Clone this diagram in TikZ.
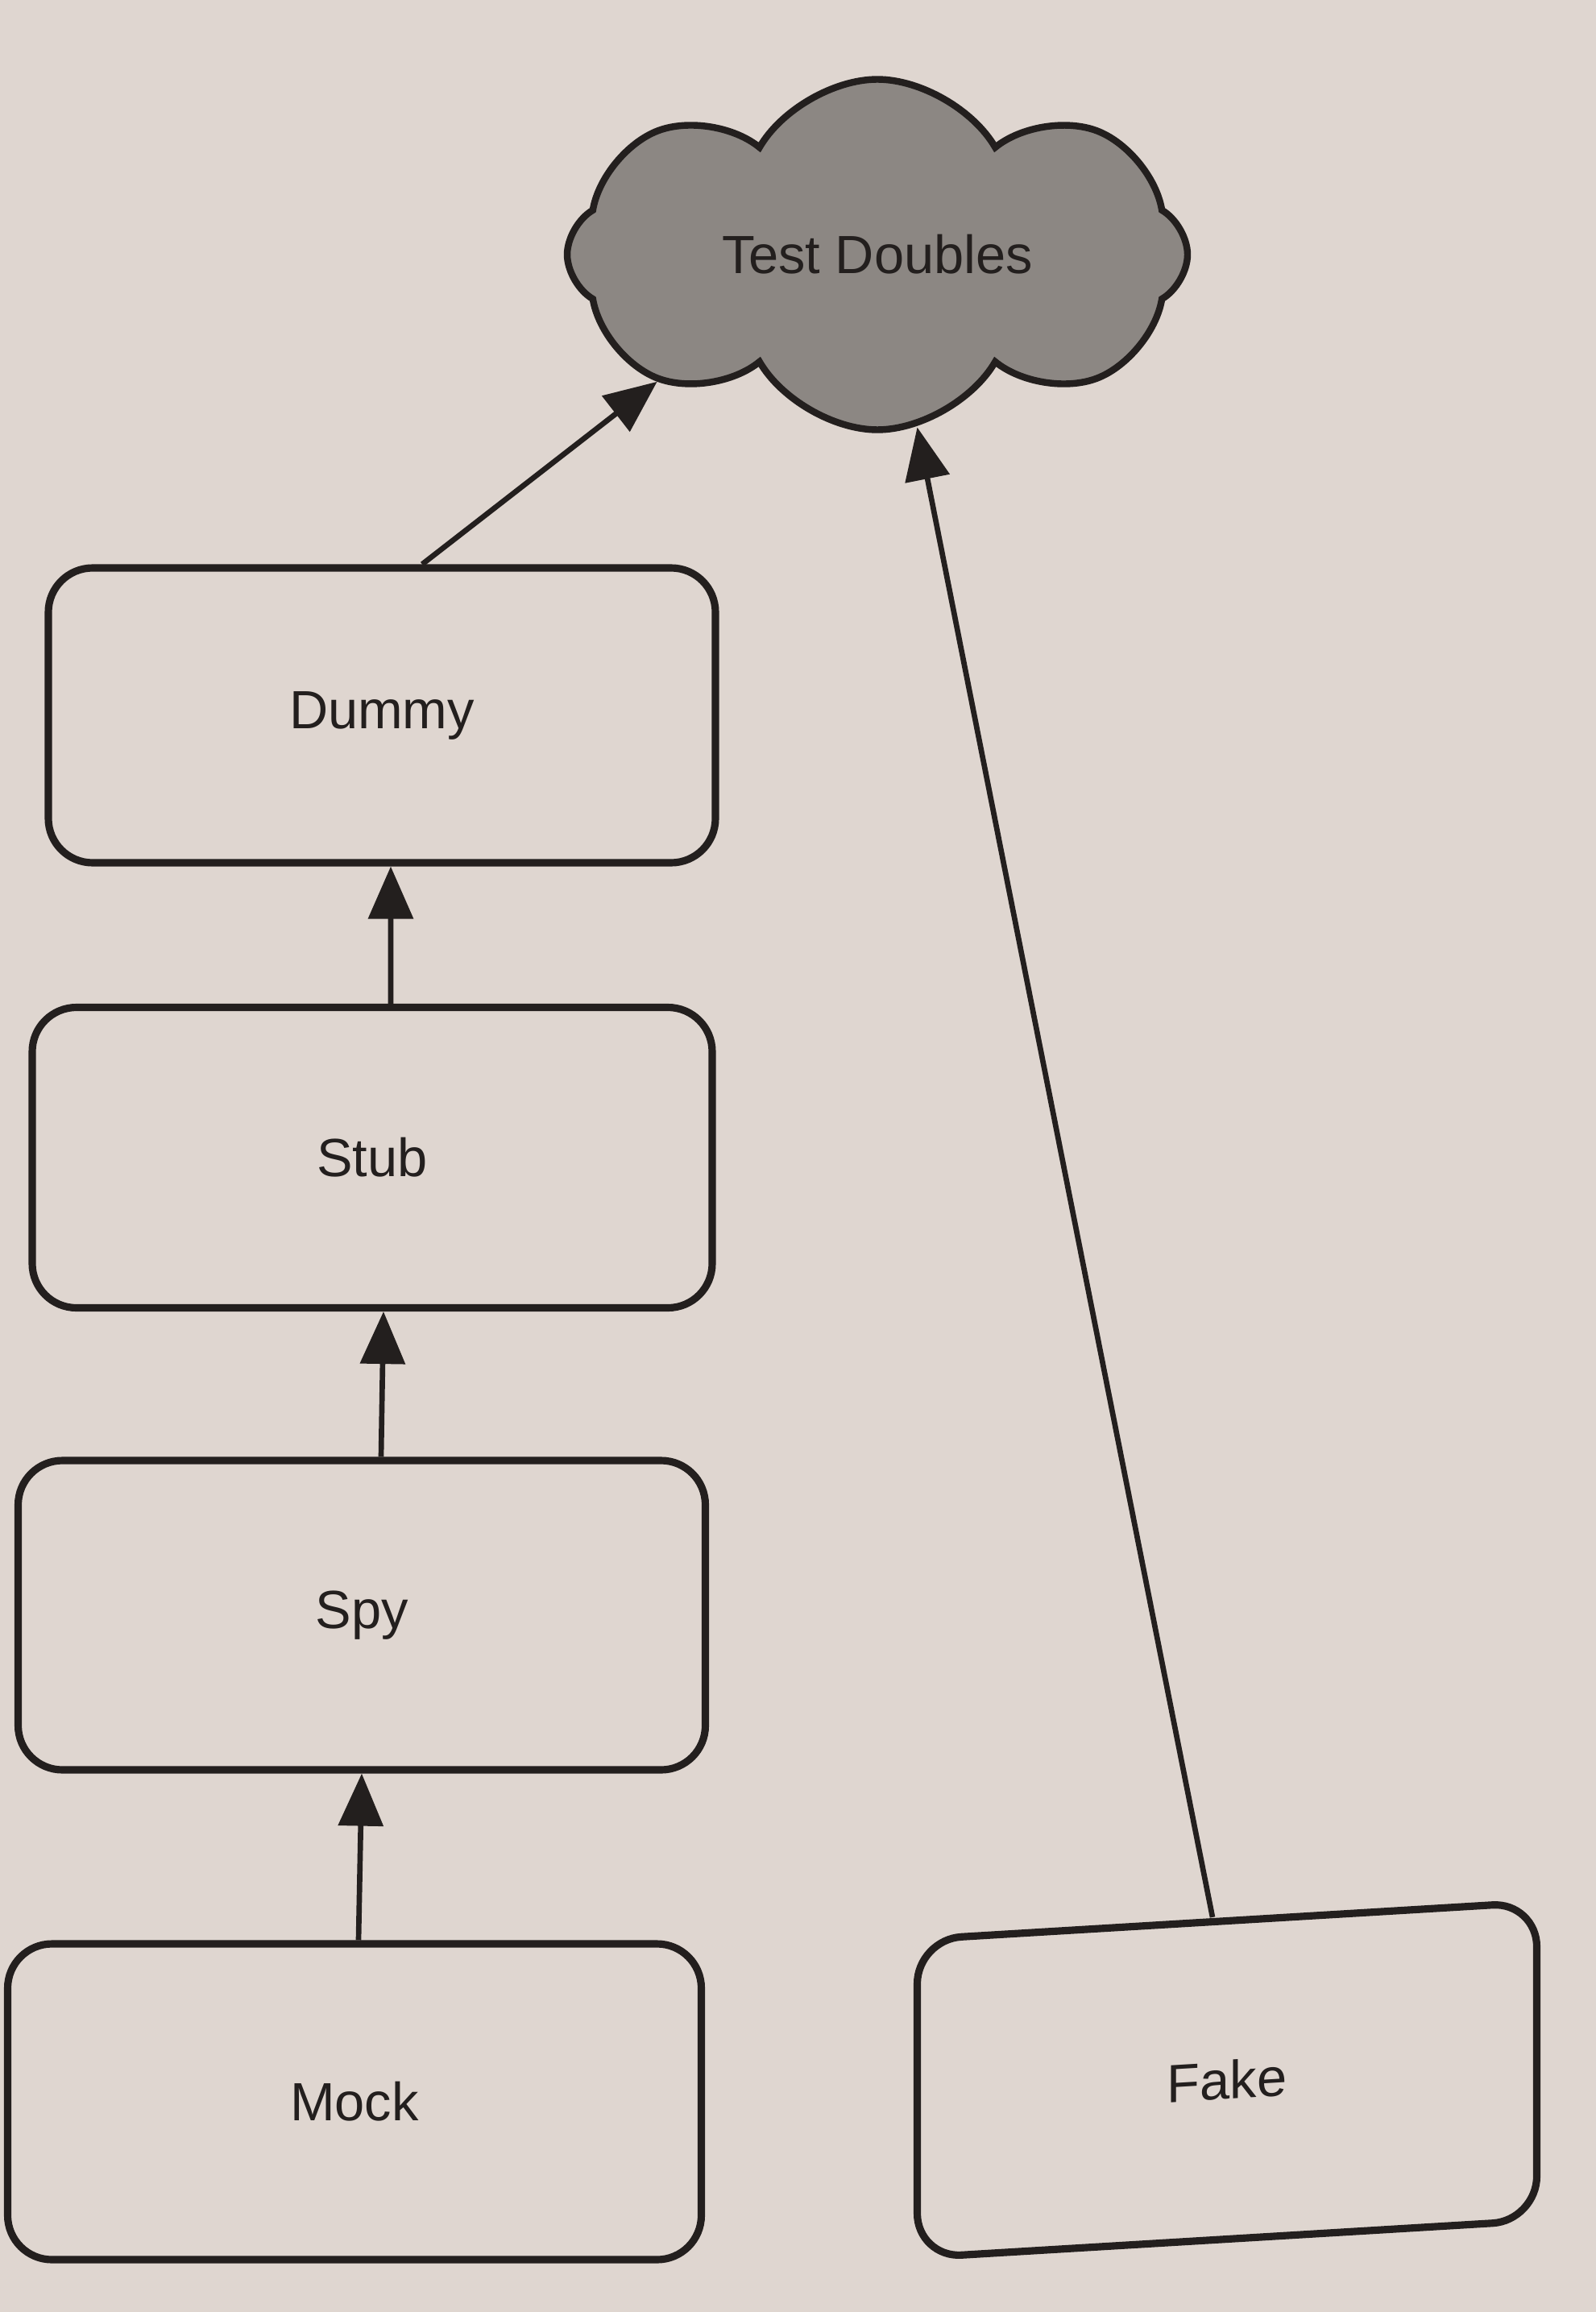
\documentclass[tikz,border=0pt]{standalone}
\usepackage{fontspec}
\setmainfont{Liberation Sans}
\usetikzlibrary{arrows.meta,shapes.symbols,positioning}

\definecolor{paper}{RGB}{223,214,208}
\definecolor{ink}{RGB}{35,31,30}
\definecolor{cloudgray}{RGB}{140,135,131}

\begin{document}
\begin{tikzpicture}[
    font=\fontsize{19}{22}\selectfont,
    % Styles
    box/.style={draw=ink, line width=2.6pt, rounded corners=5.5mm, text=ink},
    doublecloud/.style={cloud, cloud puffs=8, cloud puff arc=120, aspect=1.8,
        shape border rotate=10,
        draw=ink, line width=2.4pt, fill=cloudgray, text=ink},
    arrow/.style={-{Triangle[length=6.5mm,width=5.5mm]}, line width=1.9pt, draw=ink}
]

% --- Hintergrund (Papier) ---
\fill[paper] (0,0) rectangle (19.81,-28.70);
\useasboundingbox (0,0) rectangle (19.81,-28.70);

% --- Wolke oben ---
\node[doublecloud, minimum width=7.7cm, minimum height=4.35cm] (doubles) at (10.89,-3.16) {Test Doubles};

% --- Linke Kette ---
\node[box, minimum width=8.28cm, minimum height=3.66cm] (dummy) at (4.74,-8.88) {Dummy};
\node[box, minimum width=8.44cm, minimum height=3.73cm] (stub) at (4.62,-14.37) {Stub};
\node[box, minimum width=8.53cm, minimum height=3.84cm] (spy) at (4.49,-20.05) {Spy};
\node[box, minimum width=8.61cm, minimum height=3.92cm] (mock) at (4.40,-26.09) {Mock};

% --- Rechts unten (leicht schraeg fotografiert) ---
\node[box, yslant=0.06, transform shape, minimum width=7.69cm, minimum height=3.95cm] (fake) at (15.23,-25.82) {Fake};

% Pfeile
\draw[arrow] ([xshift=5mm]dummy.north) -- (doubles.210);
\draw[arrow] ([xshift=-1.8mm]fake.north) -- (doubles.283);
\draw[arrow] ([xshift=2.3mm]stub.north) -- ([xshift=1.1mm]dummy.south);
\draw[arrow] ([xshift=2.4mm]spy.north) -- ([xshift=1.4mm]stub.south);
\draw[arrow] ([xshift=0.5mm]mock.north) -- (spy.south);

\end{tikzpicture}
\end{document}
